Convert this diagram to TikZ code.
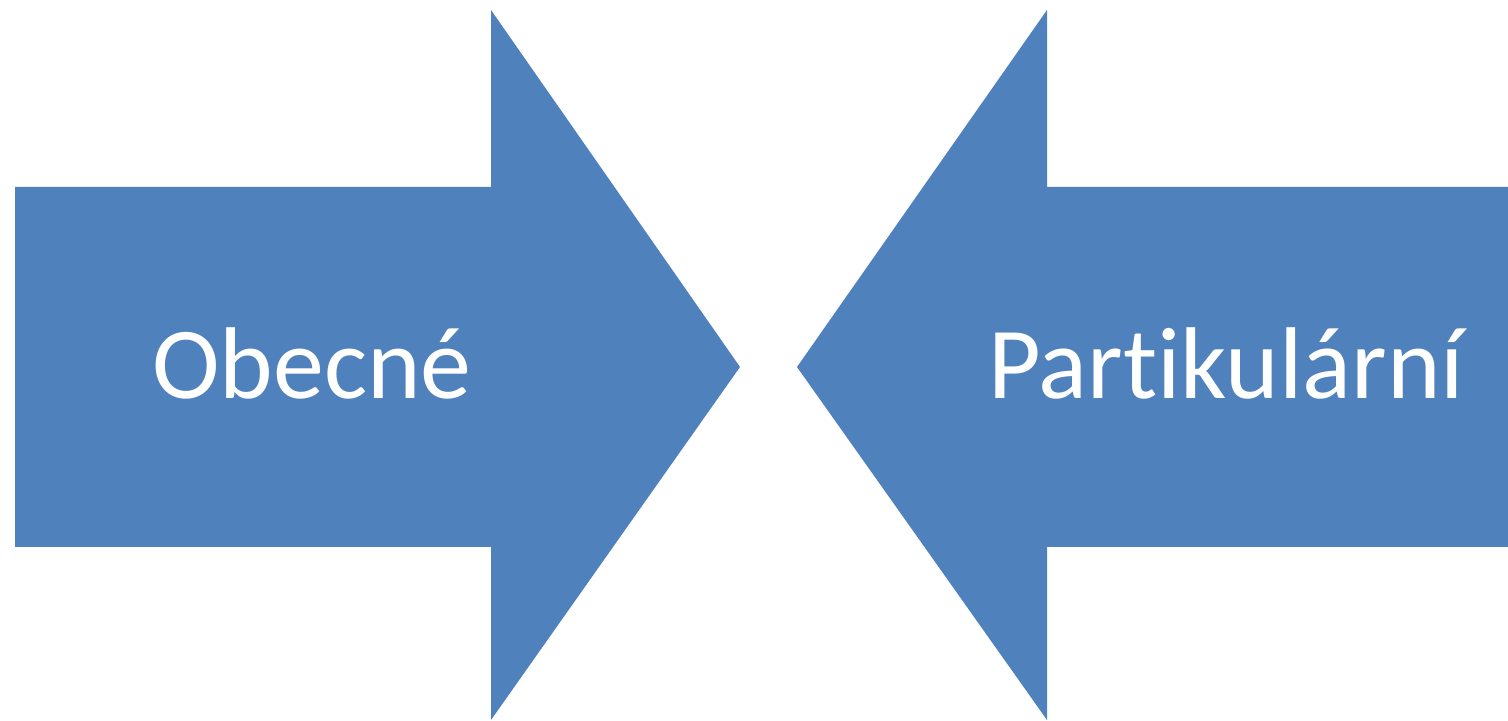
\documentclass[tikz,border=0pt]{standalone}
\usepackage{fontspec}
\setmainfont[Ligatures=NoCommon]{Carlito}
\usepackage{tikz}
\definecolor{arrowblue}{HTML}{4F81BD}
\tikzset{
	bigarrow/.style={fill=arrowblue, draw=none},
	label/.style={text=white, font=\fontsize{29}{35}\selectfont}
}

\begin{document}
\begin{tikzpicture}[x=0.01cm, y=0.01cm]
	\useasboundingbox (0,0) rectangle (1508,721);
	\fill [bigarrow] (15,174) -- (15,534) -- (491,534) -- (491,711) 
		-- (740,354) -- (491,1) -- (491,174) -- cycle;
	\fill [bigarrow] (1508,174) -- (1508,534) -- (1047,534) -- (1047,711) 
		-- (797,354) -- (1047,1) -- (1047,174) -- cycle;
	\node [label] (1) at (312,358) 
		{Obecné};
	\node [label] (2) at (1226,358) 
		{Partikulární};
\end{tikzpicture}
\end{document}
